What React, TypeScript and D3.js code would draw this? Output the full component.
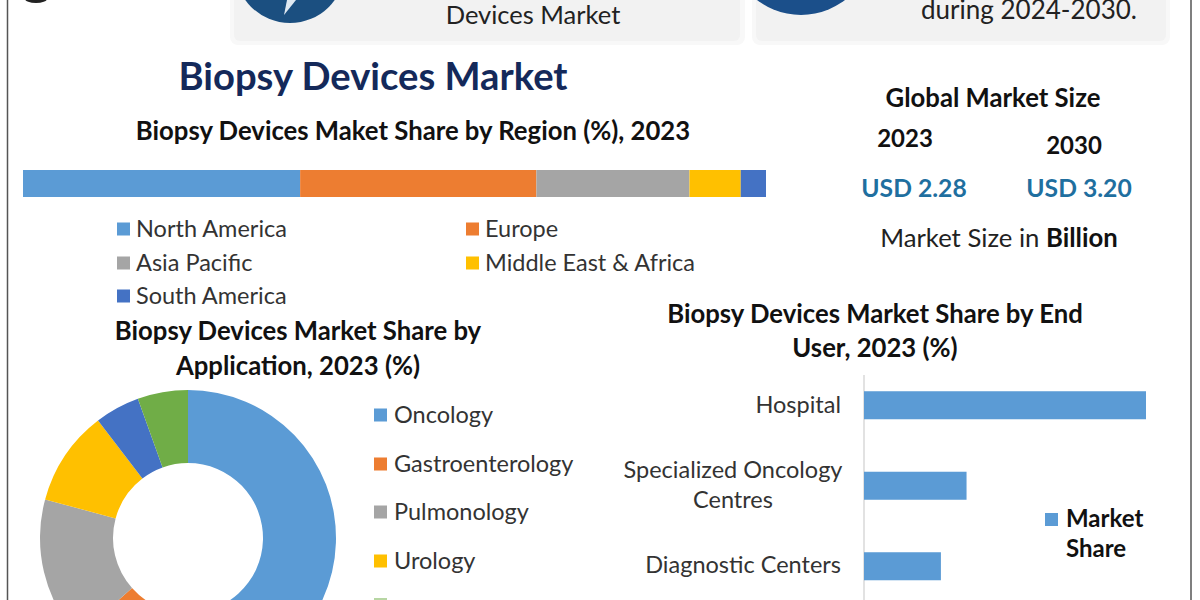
import * as d3 from 'd3'

const FONT = 'Lato, "Open Sans", sans-serif'

// Region share
const regions = ['North America', 'Europe', 'Asia Pacific', 'Middle East & Africa', 'South America']
const regionShare = [37.3, 31.8, 20.6, 6.9, 3.4]

const applications = ['Oncology', 'Gastroenterology', 'Pulmonology', 'Urology', 'hidden 1', 'hidden 2']
const applicationShare = [51, 12.4, 15.8, 10.4, 4.9, 5.5]
const applicationLegend = ['Oncology', 'Gastroenterology', 'Pulmonology', 'Urology']

// End user share
const endUsers = ['Hospital', 'Specialized Oncology', 'Diagnostic Centers']
const endUserShare = [55, 20, 15]

const palette = ['#5b9bd5', '#ed7d31', '#a5a5a5', '#ffc000', '#4472c4', '#70ad47']

function RegionBar() {
  const x = d3.scaleLinear().domain([0, 100]).range([23, 766])
  const starts = d3.cumsum([0, ...regionShare])
  const legendX = [117, 466]
  const legendY = [229, 263, 296]

  return (
    <g>
      {regionShare.map((d, i) => (
        <rect key={i} x={x(starts[i])} y={170} width={x(d) - x(0)} height={27} fill={palette[i]} />
      ))}
      {regions.map((name, i) => {
        const lx = legendX[i % 2]
        const ly = legendY[Math.floor(i / 2)]
        return (
          <g key={name}>
            <rect x={lx} y={ly - 6.5} width={13} height={13} fill={palette[i]} />
            <text x={lx + 19} y={ly + 8} fontSize={23.5} fill="#333">
              {name}
            </text>
          </g>
        )
      })}
    </g>
  )
}

function ApplicationDonut() {
  const pie = d3.pie<number>().sort(null)
  const arc = d3.arc<d3.PieArcDatum<number>>().innerRadius(75).outerRadius(148)
  const slices = pie(applicationShare)
  const rowY = [415, 464, 512, 561]

  return (
    <g>
      <g transform="translate(188,538)">
        {slices.map((s, i) => (
          <path key={applications[i]} d={arc(s) ?? ''} fill={palette[i]} />
        ))}
      </g>
      {applicationLegend.map((name, i) => (
        <g key={name}>
          <rect x={374} y={rowY[i] - 6.5} width={13} height={13} fill={palette[i]} />
          <text x={394} y={rowY[i] + 8} fontSize={23.5} fill="#333">
            {name}
          </text>
        </g>
      ))}
      {/* fifth row is cut by the bottom edge, label not readable */}
      <rect x={374} y={598} width={13} height={13} fill={palette[5]} fillOpacity={0.5} />
    </g>
  )
}

function EndUserBars() {
  const x = d3.scaleLinear().domain([0, 55]).range([864, 1146])
  const y = d3.scaleBand().domain(endUsers).range([365, 606.5]).paddingInner(0.652).paddingOuter(0.326)

  return (
    <g>
      <line x1={864} x2={864} y1={375} y2={600} stroke="#d9d9d9" strokeWidth={1.5} />
      {endUsers.map((name, i) => (
        <rect
          key={name}
          x={x(0)}
          y={y(name)}
          width={x(endUserShare[i]) - x(0)}
          height={y.bandwidth()}
          fill={palette[0]}
        />
      ))}
      <g fontSize={23.5} fill="#333" textAnchor="middle">
        <text x={841} y={413} textAnchor="end">
          Hospital
        </text>
        <text x={733} y={478}>
          Specialized Oncology
        </text>
        <text x={733} y={508}>
          Centres
        </text>
        <text x={841} y={573} textAnchor="end">
          Diagnostic Centers
        </text>
      </g>
      <rect x={1045} y={513} width={13} height={13} fill={palette[0]} />
      <g fontSize={24} fontWeight={700} fill="#111">
        <text x={1066} y={527}>
          Market
        </text>
        <text x={1066} y={557}>
          Share
        </text>
      </g>
    </g>
  )
}

export default function App() {
  return (
    <svg
      width={1200}
      height={600}
      viewBox="0 0 1200 600"
      style={{ position: 'absolute', left: 0, top: 0, background: '#fff' }}
      fontFamily={FONT}
    >
      {/* frame */}
      <line x1={7.5} x2={7.5} y1={0} y2={600} stroke="#555" strokeWidth={1.5} />
      <line x1={1191} x2={1191} y1={0} y2={600} stroke="#555" strokeWidth={1.5} />

      {/* top cards, cut by the page edge */}
      <rect x={230} y={-20} width={515} height={65} rx={8} fill="#f8f8f8" />
      <rect x={234} y={-20} width={506} height={61} rx={6} fill="#f2f2f2" />
      <rect x={752} y={-20} width={418} height={65} rx={8} fill="#f8f8f8" />
      <rect x={756} y={-20} width={410} height={61} rx={6} fill="#f2f2f2" />
      <circle cx={290} cy={-32} r={55} fill="#1b4f80" />
      <path d="M287 0 L296 0 L284 15 Z" fill="#dfe9f2" />
      <circle cx={801} cy={-57} r={72} fill="#1b4f8a" />
      <ellipse cx={36} cy={-1} rx={11} ry={4} fill="#222" />

      <g textAnchor="middle" fill="#222">
        <text x={533} y={24} fontSize={25.5}>
          Devices Market
        </text>
        <text x={1029} y={19} fontSize={26}>
          during 2024-2030.
        </text>
      </g>

      <text x={373} y={90} textAnchor="middle" fontSize={38.2} fontWeight={700} fill="#14295a">
        Biopsy Devices Market
      </text>
      <g textAnchor="middle" fontWeight={700} fill="#111" fontSize={25.7}>
        <text x={413} y={140}>
          Biopsy Devices Maket Share by Region (%), 2023
        </text>
        <text x={993} y={107}>
          Global Market Size
        </text>
        <text x={905} y={147} fontSize={24}>
          2023
        </text>
        <text x={1074} y={154} fontSize={24}>
          2030
        </text>
        <text x={914} y={197} fill="#1f6f9f" fontSize={24.7}>
          USD 2.28
        </text>
        <text x={1079} y={197} fill="#1f6f9f" fontSize={24.7}>
          USD 3.20
        </text>
        <text x={298} y={340}>
          Biopsy Devices Market Share by
        </text>
        <text x={298} y={375}>
          Application, 2023 (%)
        </text>
        <text x={875} y={323}>
          Biopsy Devices Market Share by End
        </text>
        <text x={875} y={357}>
          User, 2023 (%)
        </text>
      </g>
      <text x={999} y={247} textAnchor="middle" fontSize={25.7} fill="#222">
        Market Size in <tspan fontWeight={700} fill="#111">Billion</tspan>
      </text>

      <RegionBar />
      <ApplicationDonut />
      <EndUserBars />
    </svg>
  )
}
